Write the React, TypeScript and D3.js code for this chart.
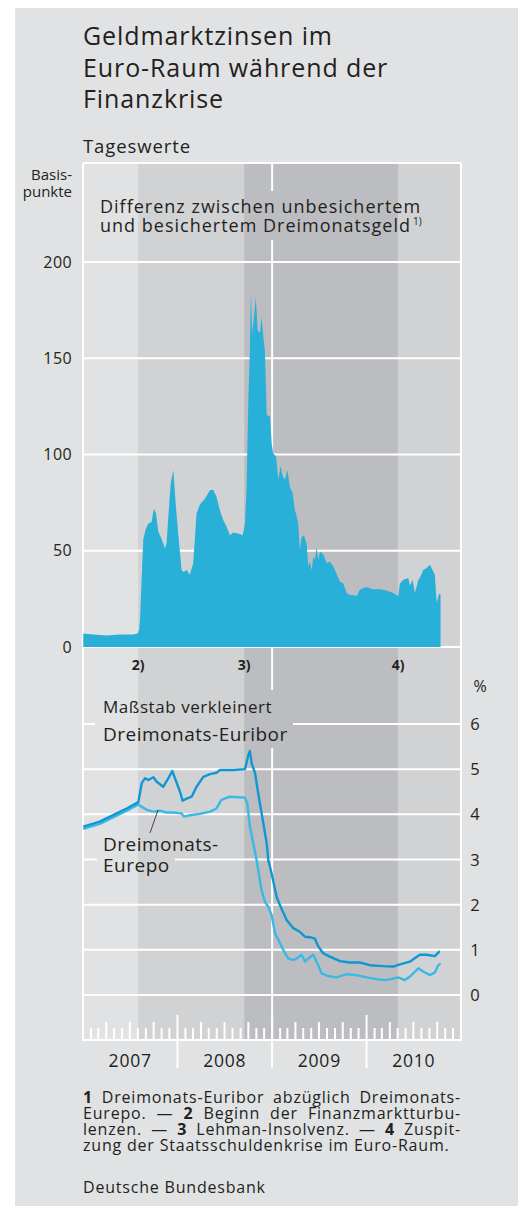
import React, { useLayoutEffect, useRef } from 'react'
import * as d3 from 'd3'

// Spread unbesichertes minus besichertes Dreimonatsgeld, Basispunkte
const spreadDates = [
  '2007-01-02', '2007-02-09', '2007-04-02', '2007-05-24', '2007-07-14', '2007-07-31',
  '2007-08-06', '2007-08-10', '2007-08-16', '2007-08-22', '2007-08-31', '2007-09-10',
  '2007-09-23', '2007-10-02', '2007-10-10', '2007-10-19', '2007-11-01', '2007-11-14',
  '2007-11-20', '2007-11-27', '2007-12-06', '2007-12-16', '2007-12-25', '2008-01-04',
  '2008-01-17', '2008-01-24', '2008-02-06', '2008-02-18', '2008-03-02', '2008-03-15',
  '2008-03-28', '2008-04-16', '2008-05-06', '2008-05-19', '2008-05-31', '2008-06-13',
  '2008-06-26', '2008-07-09', '2008-07-22', '2008-08-04', '2008-08-23', '2008-09-09',
  '2008-09-18', '2008-09-24', '2008-10-01', '2008-10-07', '2008-10-11', '2008-10-16',
  '2008-10-23', '2008-10-30', '2008-11-06', '2008-11-15', '2008-11-21', '2008-11-28',
  '2008-12-04', '2008-12-11', '2008-12-24', '2008-12-30', '2009-01-05', '2009-01-16',
  '2009-01-25', '2009-02-03', '2009-02-11', '2009-02-20', '2009-03-01', '2009-03-11',
  '2009-03-21', '2009-03-30', '2009-04-06', '2009-04-12', '2009-04-18', '2009-04-25',
  '2009-05-04', '2009-05-14', '2009-05-21', '2009-05-27', '2009-06-03', '2009-06-09',
  '2009-06-15', '2009-06-22', '2009-06-28', '2009-07-05', '2009-07-18', '2009-07-31',
  '2009-08-12', '2009-08-25', '2009-09-07', '2009-09-20', '2009-10-03', '2009-10-16',
  '2009-10-29', '2009-11-11', '2009-11-23', '2009-12-06', '2009-12-19', '2010-01-01',
  '2010-01-27', '2010-02-22', '2010-03-19', '2010-04-14', '2010-05-03', '2010-05-10',
  '2010-05-23', '2010-06-11', '2010-06-18', '2010-06-28', '2010-07-07', '2010-07-20',
  '2010-07-26', '2010-08-08', '2010-08-21', '2010-09-03', '2010-09-13', '2010-09-22',
  '2010-09-29', '2010-10-05', '2010-10-11', '2010-10-14'
]
const spreadValues = [
  7, 6.5, 6, 6.5, 6.5, 7,
  9, 16, 37, 56, 61, 64,
  65, 72, 69.5, 60, 56, 51,
  54, 68, 85, 92, 75, 59,
  40, 39, 40, 37.5, 43.5, 69.5,
  74, 77, 81.6, 81.6, 78, 71,
  66, 62.5, 58, 59.5, 59, 58,
  64, 81.6, 128, 154, 184, 163,
  171.5, 182, 164.5, 163, 171.5, 161,
  154, 120.5, 119.6, 106, 100.6, 99,
  87, 94, 88.5, 87, 92, 83,
  80, 71, 68, 64, 50.5, 57,
  58, 54, 42, 44.4, 40, 47,
  45.3, 52, 45.3, 49.6, 48, 43.5,
  44.4, 42, 38, 34, 33, 28,
  27, 27, 26.3, 29.7, 30.6, 31,
  30, 30, 29.4, 28, 26.3, 33,
  35, 35.8, 32, 35, 28, 35,
  35.8, 40, 41, 42.7, 40, 37.5,
  22.8, 26.3, 28, 27
]

// Dreimonats-Euribor, %
const euriborDates = [
  '2007-01-02', '2007-03-07', '2007-05-11', '2007-06-19', '2007-08-03', '2007-08-16',
  '2007-08-29', '2007-09-10', '2007-09-30', '2007-10-13', '2007-11-07', '2007-11-27',
  '2007-12-12', '2007-12-25', '2008-01-11', '2008-01-21', '2008-02-06', '2008-02-25',
  '2008-03-15', '2008-04-10', '2008-05-06', '2008-05-31', '2008-06-13', '2008-08-04',
  '2008-09-18', '2008-10-01', '2008-10-07', '2008-10-14', '2008-10-27', '2008-11-08',
  '2008-11-28', '2008-12-11', '2008-12-17', '2008-12-30', '2009-01-18', '2009-01-31',
  '2009-02-26', '2009-03-24', '2009-04-18', '2009-05-08', '2009-05-27', '2009-06-15',
  '2009-06-28', '2009-07-18', '2009-08-12', '2009-09-20', '2009-10-29', '2009-12-06',
  '2010-01-14', '2010-03-06', '2010-04-14', '2010-05-10', '2010-06-18', '2010-07-26',
  '2010-08-21', '2010-09-22', '2010-10-11'
]
const euriborValues = [
  3.73, 3.84, 4.02, 4.13, 4.27, 4.69,
  4.8, 4.76, 4.82, 4.72, 4.61, 4.8,
  4.96, 4.76, 4.5, 4.3, 4.35, 4.39,
  4.61, 4.83, 4.89, 4.92, 4.98, 4.98,
  5.0, 5.31, 5.4, 5.13, 4.91, 4.47,
  3.8, 3.36, 2.99, 2.69, 2.18, 1.99,
  1.66, 1.48, 1.4, 1.29, 1.28, 1.25,
  1.08, 0.92, 0.85, 0.75, 0.72, 0.72,
  0.66, 0.64, 0.63, 0.68, 0.74, 0.89,
  0.89, 0.86, 0.97
]

// Dreimonats-Eurepo, %
const eurepoDates = [
  '2007-01-02', '2007-03-07', '2007-05-11', '2007-06-19', '2007-08-03', '2007-08-16',
  '2007-09-04', '2007-09-30', '2007-10-25', '2007-11-20', '2007-12-16', '2008-01-17',
  '2008-01-26', '2008-02-18', '2008-03-28', '2008-05-06', '2008-05-31', '2008-06-19',
  '2008-07-22', '2008-09-18', '2008-09-27', '2008-10-07', '2008-10-20', '2008-11-02',
  '2008-11-21', '2008-12-04', '2008-12-17', '2008-12-30', '2009-01-12', '2009-01-25',
  '2009-02-13', '2009-03-04', '2009-03-24', '2009-04-06', '2009-04-25', '2009-05-08',
  '2009-05-21', '2009-06-09', '2009-06-28', '2009-07-11', '2009-08-06', '2009-09-07',
  '2009-10-16', '2009-11-23', '2010-01-01', '2010-02-09', '2010-03-19', '2010-05-03',
  '2010-05-29', '2010-06-18', '2010-07-20', '2010-08-08', '2010-09-03', '2010-09-22',
  '2010-10-05', '2010-10-14'
]
const eurepoValues = [
  3.68, 3.79, 3.97, 4.08, 4.22, 4.17,
  4.1, 4.06, 4.08, 4.04, 4.04, 4.02,
  3.95, 3.98, 4.01, 4.06, 4.13, 4.32,
  4.39, 4.37, 4.24, 3.73, 3.36, 2.99,
  2.32, 2.07, 1.95, 1.77, 1.37, 1.22,
  1.0, 0.81, 0.77, 0.81, 0.89, 0.74,
  0.81, 0.89, 0.66, 0.48, 0.42, 0.39,
  0.46, 0.44, 0.39, 0.35, 0.33, 0.39,
  0.33, 0.41, 0.59, 0.52, 0.44, 0.5,
  0.66, 0.69
]

// Phasen der Krise (Hintergrund)
const phaseStarts = ['2007-01-01', '2007-08-02', '2008-09-15', '2010-05-03']
const phaseEnds = ['2007-08-02', '2008-09-15', '2010-05-03', '2011-01-01']
const phaseFills = ['#e1e2e4', '#d1d2d4', '#bcbdc0', '#d1d2d4']
const eventDates = ['2007-08-02', '2008-09-15', '2010-05-03']
const eventLabels = ['2)', '3)', '4)']

const years = [2007, 2008, 2009, 2010]
const topTicks = [0, 50, 100, 150, 200]
const bottomTicks = [0, 1, 2, 3, 4, 5, 6]

const titleLines = ['Geldmarktzinsen im', 'Euro-Raum während der', 'Finanzkrise']

const FONT = "'Open Sans', 'Noto Sans', sans-serif"
const TEXT = '#231f20'

const W = 518
const H = 1206
const L = 83
const R = 461
const T = 163
const B = 1040

const parse = d3.timeParse('%Y-%m-%d')

export default function App() {
  const footRef = useRef<SVGGElement>(null)

  const x = d3.scaleTime().domain([new Date(2007, 0, 1), new Date(2011, 0, 1)]).range([L, R])
  const yTop = d3.scaleLinear().domain([0, 200]).range([647, 262])
  const yBot = d3.scaleLinear().domain([0, 6]).range([995, 724])

  const spread = spreadDates.map((d, i) => ({ date: parse(d)!, v: spreadValues[i] }))
  const euribor = euriborDates.map((d, i) => ({ date: parse(d)!, v: euriborValues[i] }))
  const eurepo = eurepoDates.map((d, i) => ({ date: parse(d)!, v: eurepoValues[i] }))

  const area = d3.area<{ date: Date; v: number }>()
    .x(d => x(d.date))
    .y0(yTop(0))
    .y1(d => yTop(d.v))
  const line = d3.line<{ date: Date; v: number }>()
    .x(d => x(d.date))
    .y(d => yBot(d.v))

  const months = d3.timeMonth.range(new Date(2007, 1, 1), new Date(2011, 0, 1))

  // Blocksatz der Fußnote
  useLayoutEffect(() => {
    if (!footRef.current) return
    d3.select(footRef.current).selectAll<SVGTextElement, unknown>('text.just').each(function () {
      this.setAttribute('word-spacing', '0')
      const len = this.getComputedTextLength()
      const spaces = (this.textContent || '').split(' ').length - 1
      const ws = (R - L - len) / spaces
      if (spaces > 0 && ws > 0) this.setAttribute('word-spacing', String(ws))
    })
  }, [])

  const footLines: { parts: [string, boolean][]; just: boolean }[] = [
    { parts: [['1', true], [' Dreimonats-Euribor abzüglich Dreimonats-', false]], just: true },
    { parts: [['Eurepo. — ', false], ['2', true], [' Beginn der Finanzmarktturbu-', false]], just: true },
    { parts: [['lenzen. — ', false], ['3', true], [' Lehman-Insolvenz. — ', false], ['4', true], [' Zuspit-', false]], just: true },
    { parts: [['zung der Staatsschuldenkrise im Euro-Raum.', false]], just: false }
  ]

  return (
    <>
      <style>{'body{margin:0}'}</style>
      <svg width={W} height={H} style={{ display: 'block', fontFamily: FONT }}>
        <rect x={0} y={0} width={W} height={H} fill="#fff" />
        <rect x={15} y={8} width={W - 15} height={H - 8} fill="#e1e2e4" />

        <defs>
          <mask id="gridMask" maskUnits="userSpaceOnUse" x={0} y={0} width={W} height={H}>
            <rect x={0} y={0} width={W} height={H} fill="#fff" />
            <rect x={95} y={191} width={340} height={49} fill="#000" />
            <rect x={95} y={690} width={198} height={58} fill="#000" />
            <rect x={97} y={830} width={78} height={50} fill="#000" />
          </mask>
        </defs>

        {/* Titel */}
        {titleLines.map((t, i) => (
          <text key={t} x={L} y={45 + i * 31.5} fontSize={25} letterSpacing={0.9} fill={TEXT}>{t}</text>
        ))}
        <text x={L} y={153} fontSize={18.5} letterSpacing={0.9} fill={TEXT}>Tageswerte</text>

        {/* Hintergrundphasen */}
        {phaseStarts.map((s, i) => (
          <rect key={s} x={x(parse(s)!)} y={T} width={x(parse(phaseEnds[i])!) - x(parse(s)!)}
            height={B - T} fill={phaseFills[i]} />
        ))}

        {/* Gitter */}
        <g mask="url(#gridMask)" stroke="#fff" strokeWidth={2}>
          {topTicks.map(v => (
            <line key={'t' + v} x1={L} x2={R} y1={yTop(v)} y2={yTop(v)} />
          ))}
          {bottomTicks.map(v => (
            <line key={'b' + v} x1={L} x2={R} y1={yBot(v)} y2={yBot(v)} />
          ))}
          <line x1={x(new Date(2009, 0, 1))} x2={x(new Date(2009, 0, 1))} y1={T} y2={B} />
          <line x1={L} x2={R} y1={T} y2={T} />
          <line x1={L} x2={L} y1={T} y2={B} />
          <line x1={R} x2={R} y1={T} y2={B} />
          <line x1={L - 1} x2={R + 1} y1={B} y2={B} />
        </g>

        {/* Zinsdifferenz */}
        <path d={area(spread) || ''} fill="#29b0d9" />

        {/* Zinsen */}
        <path d={line(eurepo) || ''} fill="none" stroke="#3ab8e6" strokeWidth={2.4} strokeLinejoin="round" />
        <path d={line(euribor) || ''} fill="none" stroke="#0f97d3" strokeWidth={2.4} strokeLinejoin="round" />

        {/* Achse links */}
        <text x={72} y={180} fontSize={15} textAnchor="end" fill={TEXT}>Basis-</text>
        <text x={72} y={197} fontSize={15} textAnchor="end" fill={TEXT}>punkte</text>
        {topTicks.map(v => (
          <text key={v} x={72} y={yTop(v) + 5.5} fontSize={16} letterSpacing={0.4} textAnchor="end" fill={TEXT}>{v}</text>
        ))}

        {/* Achse rechts */}
        <text x={480} y={692} fontSize={16} textAnchor="middle" fill={TEXT}>%</text>
        {bottomTicks.map(v => (
          <text key={v} x={475} y={yBot(v) + 6} fontSize={16.5} textAnchor="middle" fill={TEXT}>{v}</text>
        ))}

        {/* Ereignisse */}
        {eventDates.map((d, i) => (
          <text key={d} x={x(parse(d)!)} y={670} fontSize={14} fontWeight="bold" textAnchor="middle" fill={TEXT}>
            {eventLabels[i]}
          </text>
        ))}

        {/* Beschriftungen */}
        <text x={100} y={213} fontSize={18} letterSpacing={1} fill={TEXT}>Differenz zwischen unbesichertem</text>
        <text x={100} y={232} fontSize={18} letterSpacing={1} fill={TEXT}>
          und besichertem Dreimonatsgeld
          <tspan fontSize={10} letterSpacing={0} dy={-7} dx={2}>1)</tspan>
        </text>
        <text x={103} y={713} fontSize={17} letterSpacing={0.55} fill={TEXT}>Maßstab verkleinert</text>
        <text x={103} y={741} fontSize={19} letterSpacing={0.5} fill={TEXT}>Dreimonats-Euribor</text>
        <text x={103} y={851} fontSize={19} letterSpacing={0.5} fill={TEXT}>Dreimonats-</text>
        <text x={103} y={872} fontSize={19} letterSpacing={0.5} fill={TEXT}>Eurepo</text>
        <line x1={150} y1={833} x2={158} y2={810} stroke={TEXT} strokeWidth={0.8} />

        {/* Zeitachse */}
        <g stroke="#fff" strokeWidth={2}>
          {months.map(m => {
            const mo = m.getMonth()
            const len = mo === 0 ? 25 : mo % 3 === 0 ? 18 : 12
            return (
              <line key={m.toISOString()} x1={x(m)} x2={x(m)} y1={B - len} y2={mo === 0 ? B + 28 : B} />
            )
          })}
        </g>
        {years.map(yr => (
          <text key={yr} x={(x(new Date(yr, 0, 1)) + x(new Date(yr + 1, 0, 1))) / 2} y={1067}
            fontSize={17.5} letterSpacing={0.8} textAnchor="middle" fill={TEXT}>{yr}</text>
        ))}

        {/* Fußnoten */}
        <g ref={footRef}>
          {footLines.map((ln, i) => (
            <text key={i} className={ln.just ? 'just' : ''} x={L} y={1103 + i * 16} fontSize={16}
              letterSpacing={0.8} fill={TEXT}>
              {ln.parts.map(([s, b], j) => (
                <tspan key={j} fontWeight={b ? 'bold' : 'normal'}>{s}</tspan>
              ))}
            </text>
          ))}
        </g>
        <text x={L} y={1193} fontSize={16} letterSpacing={0.8} fill={TEXT}>Deutsche Bundesbank</text>
      </svg>
    </>
  )
}
